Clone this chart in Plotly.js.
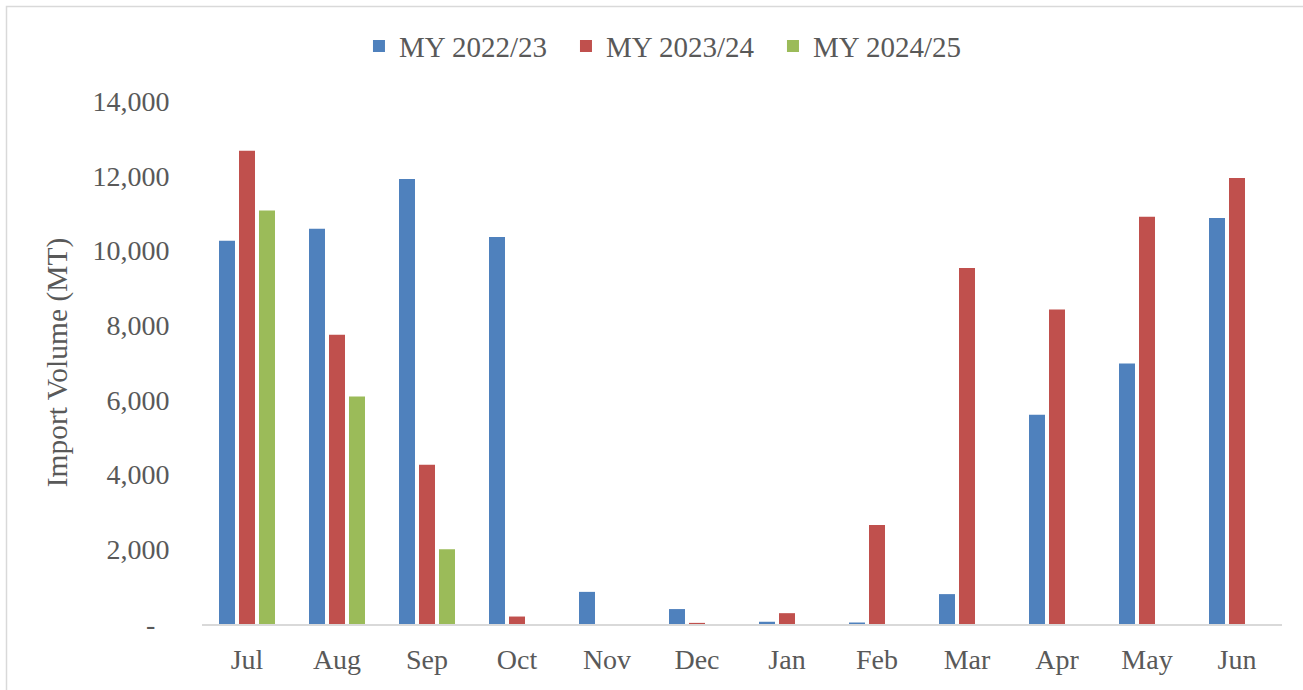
<!DOCTYPE html>
<html>
<head>
<meta charset="utf-8">
<script src="https://cdn.plot.ly/plotly-3.0.1.min.js"></script>
<style>
  html, body { margin: 0; padding: 0; background: #ffffff; }
  #chart { width: 1303px; height: 690px; }
</style>
</head>
<body>
<div id="chart"></div>
<script>
const months = ["Jul", "Aug", "Sep", "Oct", "Nov", "Dec", "Jan", "Feb", "Mar", "Apr", "May", "Jun"];
const my2022_23 = [10260, 10580, 11910, 10360, 860, 400, 60, 40, 800, 5600, 6970, 10870];
const my2023_24 = [12670, 7740, 4260, 200, 0, 30, 290, 2650, 9530, 8420, 10900, 11940];
const my2024_25 = [11070, 6090, 2000, null, null, null, null, null, null, null, null, null];
const seriesNames = ["MY 2022/23", "MY 2023/24", "MY 2024/25"];
const yTickVals = [0, 2000, 4000, 6000, 8000, 10000, 12000, 14000];
const yTickText = ["-\u00a0\u00a0", "2,000", "4,000", "6,000", "8,000", "10,000", "12,000", "14,000"];
const yTitle = "Import Volume (MT)";

const colors = ["#4f81bd", "#c0504d", "#9bbb59"];
const font = "Liberation Serif, Times New Roman, serif";
const textColor = "#595959";

const seriesData = [my2022_23, my2023_24, my2024_25];
const traces = seriesData.map((vals, i) => ({
  type: "bar",
  name: seriesNames[i],
  x: months,
  y: vals,
  marker: { color: colors[i], line: { width: 0 } },
  hoverinfo: "x+y+name"
}));

const layout = {
  width: 1303,
  height: 690,
  margin: { l: 202, r: 21, t: 101, b: 66 },
  paper_bgcolor: "#ffffff",
  plot_bgcolor: "#ffffff",
  barmode: "group",
  bargap: 1 / 3,
  bargroupgap: 0.2,
  font: { family: font, size: 28, color: textColor },
  showlegend: true,
  legend: {
    orientation: "h",
    xref: "container",
    yref: "container",
    x: 0.2755,
    xanchor: "left",
    y: 0.933,
    yanchor: "middle",
    entrywidth: 162,
    entrywidthmode: "pixels",
    font: { family: font, size: 29, color: textColor },
    itemclick: false,
    traceorder: "normal"
  },
  xaxis: {
    type: "category",
    showgrid: false,
    zeroline: false,
    showline: true,
    linecolor: "#d9d9d9",
    linewidth: 1.5,
    ticks: "outside",
    ticklen: 10,
    tickcolor: "rgba(0,0,0,0)",
    tickfont: { family: font, size: 28, color: textColor },
    fixedrange: true
  },
  yaxis: {
    range: [0, 14000],
    tickvals: yTickVals,
    ticktext: yTickText,
    showgrid: false,
    zeroline: false,
    showline: false,
    ticks: "outside",
    ticklen: 26,
    tickcolor: "rgba(0,0,0,0)",
    tickfont: { family: font, size: 28, color: textColor },
    title: { text: yTitle, font: { family: font, size: 29.5, color: textColor }, standoff: 16 },
    fixedrange: true
  },
  shapes: [{
    type: "rect",
    xref: "paper", yref: "paper",
    x0: (6.5 - 202) / 1080, x1: (1306 - 202) / 1080,
    y0: (624 - 694) / 523, y1: (624 - 6.5) / 523,
    line: { color: "#d9d9d9", width: 1.5 },
    fillcolor: "rgba(0,0,0,0)",
    layer: "below"
  }]
};

Plotly.newPlot("chart", traces, layout, { displayModeBar: false, staticPlot: true });
</script>
</body>
</html>
